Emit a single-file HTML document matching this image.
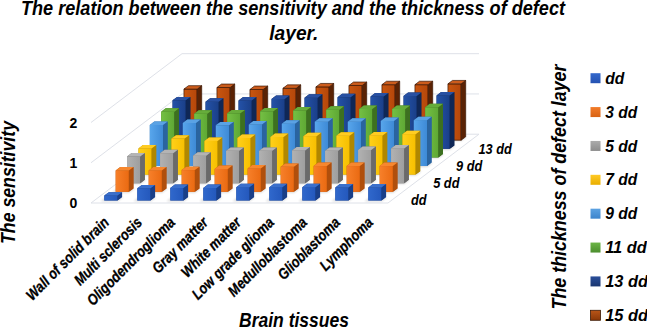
<!DOCTYPE html>
<html><head><meta charset="utf-8"><style>
html,body{margin:0;padding:0;background:#fff;width:647px;height:328px;overflow:hidden}
svg{display:block}
</style></head><body>
<svg width="647" height="328" viewBox="0 0 647 328">
<defs>
<linearGradient id="f0" x1="0" y1="0" x2="1" y2="0"><stop offset="0" stop-color="#3068cc"/><stop offset="1" stop-color="#2458bc"/></linearGradient>
<linearGradient id="f1" x1="0" y1="0" x2="1" y2="0"><stop offset="0" stop-color="#f7802a"/><stop offset="1" stop-color="#ea6a12"/></linearGradient>
<linearGradient id="f2" x1="0" y1="0" x2="1" y2="0"><stop offset="0" stop-color="#b2b2b2"/><stop offset="1" stop-color="#9e9e9e"/></linearGradient>
<linearGradient id="f3" x1="0" y1="0" x2="1" y2="0"><stop offset="0" stop-color="#ffd01a"/><stop offset="1" stop-color="#f7bf00"/></linearGradient>
<linearGradient id="f4" x1="0" y1="0" x2="1" y2="0"><stop offset="0" stop-color="#58a6ec"/><stop offset="1" stop-color="#3e8ad6"/></linearGradient>
<linearGradient id="f5" x1="0" y1="0" x2="1" y2="0"><stop offset="0" stop-color="#74c044"/><stop offset="1" stop-color="#5ea834"/></linearGradient>
<linearGradient id="f6" x1="0" y1="0" x2="1" y2="0"><stop offset="0" stop-color="#2452a8"/><stop offset="1" stop-color="#1a3f88"/></linearGradient>
<linearGradient id="f7" x1="0" y1="0" x2="1" y2="0"><stop offset="0" stop-color="#c9560f"/><stop offset="1" stop-color="#b4460a"/></linearGradient>
<filter id="blur1" x="-20%" y="-50%" width="140%" height="200%"><feGaussianBlur stdDeviation="1.2"/></filter>
<linearGradient id="k0" x1="0" y1="0" x2="0" y2="1"><stop offset="0" stop-color="#3468cc"/><stop offset="1" stop-color="#2452b2"/></linearGradient>
<linearGradient id="k1" x1="0" y1="0" x2="0" y2="1"><stop offset="0" stop-color="#f27c2a"/><stop offset="1" stop-color="#d86212"/></linearGradient>
<linearGradient id="k2" x1="0" y1="0" x2="0" y2="1"><stop offset="0" stop-color="#ababab"/><stop offset="1" stop-color="#8c8c8c"/></linearGradient>
<linearGradient id="k3" x1="0" y1="0" x2="0" y2="1"><stop offset="0" stop-color="#ffc925"/><stop offset="1" stop-color="#e8ae00"/></linearGradient>
<linearGradient id="k4" x1="0" y1="0" x2="0" y2="1"><stop offset="0" stop-color="#5ca2e2"/><stop offset="1" stop-color="#3c84cc"/></linearGradient>
<linearGradient id="k5" x1="0" y1="0" x2="0" y2="1"><stop offset="0" stop-color="#6cb546"/><stop offset="1" stop-color="#4c8e2e"/></linearGradient>
<linearGradient id="k6" x1="0" y1="0" x2="0" y2="1"><stop offset="0" stop-color="#2a4e9a"/><stop offset="1" stop-color="#1a3670"/></linearGradient>
<linearGradient id="k7" x1="0" y1="0" x2="0" y2="1"><stop offset="0" stop-color="#ba5618"/><stop offset="1" stop-color="#8a3808"/></linearGradient>
</defs>
<polyline points="91.00,162.75 182.00,93.95 479.00,93.95" fill="none" stroke="#dee1e8" stroke-width="1"/>
<polyline points="91.00,122.50 182.00,53.70 479.00,53.70" fill="none" stroke="#dee1e8" stroke-width="1"/>
<polygon points="91.00,203.00 388.00,203.00 479.00,134.20 182.00,134.20" fill="#ffffff" stroke="#dee1e8" stroke-width="1"/>
<polygon points="180.16,141.08 197.32,141.08 203.01,136.78 185.85,136.78" fill="#000" opacity="0.16" filter="url(#blur1)"/>
<polygon points="183.94,140.22 197.14,140.22 197.14,89.10 183.94,89.10" fill="url(#f7)" stroke="#3b1503" stroke-width="0.7" stroke-linejoin="round"/>
<polygon points="197.14,140.22 201.69,136.78 201.69,85.66 197.14,89.10" fill="#5a2204" stroke="#3b1503" stroke-width="0.7" stroke-linejoin="round"/>
<polygon points="183.94,89.10 197.14,89.10 201.69,85.66 188.49,85.66" fill="#cc5c1c" stroke="#3b1503" stroke-width="0.7" stroke-linejoin="round"/>
<polygon points="213.16,141.08 230.32,141.08 236.01,136.78 218.85,136.78" fill="#000" opacity="0.16" filter="url(#blur1)"/>
<polygon points="216.94,140.22 230.14,140.22 230.14,87.49 216.94,87.49" fill="url(#f7)" stroke="#3b1503" stroke-width="0.7" stroke-linejoin="round"/>
<polygon points="230.14,140.22 234.69,136.78 234.69,84.05 230.14,87.49" fill="#5a2204" stroke="#3b1503" stroke-width="0.7" stroke-linejoin="round"/>
<polygon points="216.94,87.49 230.14,87.49 234.69,84.05 221.49,84.05" fill="#cc5c1c" stroke="#3b1503" stroke-width="0.7" stroke-linejoin="round"/>
<polygon points="246.16,141.08 263.32,141.08 269.01,136.78 251.85,136.78" fill="#000" opacity="0.16" filter="url(#blur1)"/>
<polygon points="249.94,140.22 263.14,140.22 263.14,89.50 249.94,89.50" fill="url(#f7)" stroke="#3b1503" stroke-width="0.7" stroke-linejoin="round"/>
<polygon points="263.14,140.22 267.69,136.78 267.69,86.06 263.14,89.50" fill="#5a2204" stroke="#3b1503" stroke-width="0.7" stroke-linejoin="round"/>
<polygon points="249.94,89.50 263.14,89.50 267.69,86.06 254.49,86.06" fill="#cc5c1c" stroke="#3b1503" stroke-width="0.7" stroke-linejoin="round"/>
<polygon points="279.16,141.08 296.32,141.08 302.01,136.78 284.85,136.78" fill="#000" opacity="0.16" filter="url(#blur1)"/>
<polygon points="282.94,140.22 296.14,140.22 296.14,88.30 282.94,88.30" fill="url(#f7)" stroke="#3b1503" stroke-width="0.7" stroke-linejoin="round"/>
<polygon points="296.14,140.22 300.69,136.78 300.69,84.86 296.14,88.30" fill="#5a2204" stroke="#3b1503" stroke-width="0.7" stroke-linejoin="round"/>
<polygon points="282.94,88.30 296.14,88.30 300.69,84.86 287.49,84.86" fill="#cc5c1c" stroke="#3b1503" stroke-width="0.7" stroke-linejoin="round"/>
<polygon points="312.16,141.08 329.32,141.08 335.01,136.78 317.85,136.78" fill="#000" opacity="0.16" filter="url(#blur1)"/>
<polygon points="315.94,140.22 329.14,140.22 329.14,86.89 315.94,86.89" fill="url(#f7)" stroke="#3b1503" stroke-width="0.7" stroke-linejoin="round"/>
<polygon points="329.14,140.22 333.69,136.78 333.69,83.45 329.14,86.89" fill="#5a2204" stroke="#3b1503" stroke-width="0.7" stroke-linejoin="round"/>
<polygon points="315.94,86.89 329.14,86.89 333.69,83.45 320.49,83.45" fill="#cc5c1c" stroke="#3b1503" stroke-width="0.7" stroke-linejoin="round"/>
<polygon points="345.16,141.08 362.32,141.08 368.01,136.78 350.85,136.78" fill="#000" opacity="0.16" filter="url(#blur1)"/>
<polygon points="348.94,140.22 362.14,140.22 362.14,85.48 348.94,85.48" fill="url(#f7)" stroke="#3b1503" stroke-width="0.7" stroke-linejoin="round"/>
<polygon points="362.14,140.22 366.69,136.78 366.69,82.04 362.14,85.48" fill="#5a2204" stroke="#3b1503" stroke-width="0.7" stroke-linejoin="round"/>
<polygon points="348.94,85.48 362.14,85.48 366.69,82.04 353.49,82.04" fill="#cc5c1c" stroke="#3b1503" stroke-width="0.7" stroke-linejoin="round"/>
<polygon points="378.16,141.08 395.32,141.08 401.01,136.78 383.85,136.78" fill="#000" opacity="0.16" filter="url(#blur1)"/>
<polygon points="381.94,140.22 395.14,140.22 395.14,84.68 381.94,84.68" fill="url(#f7)" stroke="#3b1503" stroke-width="0.7" stroke-linejoin="round"/>
<polygon points="395.14,140.22 399.69,136.78 399.69,81.24 395.14,84.68" fill="#5a2204" stroke="#3b1503" stroke-width="0.7" stroke-linejoin="round"/>
<polygon points="381.94,84.68 395.14,84.68 399.69,81.24 386.49,81.24" fill="#cc5c1c" stroke="#3b1503" stroke-width="0.7" stroke-linejoin="round"/>
<polygon points="411.16,141.08 428.32,141.08 434.01,136.78 416.85,136.78" fill="#000" opacity="0.16" filter="url(#blur1)"/>
<polygon points="414.94,140.22 428.14,140.22 428.14,84.68 414.94,84.68" fill="url(#f7)" stroke="#3b1503" stroke-width="0.7" stroke-linejoin="round"/>
<polygon points="428.14,140.22 432.69,136.78 432.69,81.24 428.14,84.68" fill="#5a2204" stroke="#3b1503" stroke-width="0.7" stroke-linejoin="round"/>
<polygon points="414.94,84.68 428.14,84.68 432.69,81.24 419.49,81.24" fill="#cc5c1c" stroke="#3b1503" stroke-width="0.7" stroke-linejoin="round"/>
<polygon points="444.16,141.08 461.32,141.08 467.01,136.78 449.85,136.78" fill="#000" opacity="0.16" filter="url(#blur1)"/>
<polygon points="447.94,140.22 461.14,140.22 461.14,83.87 447.94,83.87" fill="url(#f7)" stroke="#3b1503" stroke-width="0.7" stroke-linejoin="round"/>
<polygon points="461.14,140.22 465.69,136.78 465.69,80.43 461.14,83.87" fill="#5a2204" stroke="#3b1503" stroke-width="0.7" stroke-linejoin="round"/>
<polygon points="447.94,83.87 461.14,83.87 465.69,80.43 452.49,80.43" fill="#cc5c1c" stroke="#3b1503" stroke-width="0.7" stroke-linejoin="round"/>
<polygon points="168.79,149.68 185.94,149.68 191.63,145.38 174.47,145.38" fill="#000" opacity="0.16" filter="url(#blur1)"/>
<polygon points="172.56,148.82 185.76,148.82 190.31,145.38 190.31,96.88 177.11,96.88 172.56,100.32" fill="#0f2756"/>
<polygon points="172.56,148.82 185.76,148.82 185.76,100.32 172.56,100.32" fill="url(#f6)"/>
<polygon points="185.76,148.82 190.31,145.38 190.31,96.88 185.76,100.32" fill="#0f2756"/>
<polygon points="172.56,100.32 185.76,100.32 190.31,96.88 177.11,96.88" fill="#2850a2"/>
<polygon points="201.78,149.68 218.95,149.68 224.63,145.38 207.47,145.38" fill="#000" opacity="0.16" filter="url(#blur1)"/>
<polygon points="205.56,148.82 218.76,148.82 223.31,145.38 223.31,98.29 210.11,98.29 205.56,101.73" fill="#0f2756"/>
<polygon points="205.56,148.82 218.76,148.82 218.76,101.73 205.56,101.73" fill="url(#f6)"/>
<polygon points="218.76,148.82 223.31,145.38 223.31,98.29 218.76,101.73" fill="#0f2756"/>
<polygon points="205.56,101.73 218.76,101.73 223.31,98.29 210.11,98.29" fill="#2850a2"/>
<polygon points="234.78,149.68 251.94,149.68 257.63,145.38 240.47,145.38" fill="#000" opacity="0.16" filter="url(#blur1)"/>
<polygon points="238.56,148.82 251.76,148.82 256.31,145.38 256.31,97.08 243.11,97.08 238.56,100.52" fill="#0f2756"/>
<polygon points="238.56,148.82 251.76,148.82 251.76,100.52 238.56,100.52" fill="url(#f6)"/>
<polygon points="251.76,148.82 256.31,145.38 256.31,97.08 251.76,100.52" fill="#0f2756"/>
<polygon points="238.56,100.52 251.76,100.52 256.31,97.08 243.11,97.08" fill="#2850a2"/>
<polygon points="267.78,149.68 284.94,149.68 290.63,145.38 273.47,145.38" fill="#000" opacity="0.16" filter="url(#blur1)"/>
<polygon points="271.56,148.82 284.76,148.82 289.31,145.38 289.31,95.47 276.11,95.47 271.56,98.91" fill="#0f2756"/>
<polygon points="271.56,148.82 284.76,148.82 284.76,98.91 271.56,98.91" fill="url(#f6)"/>
<polygon points="284.76,148.82 289.31,145.38 289.31,95.47 284.76,98.91" fill="#0f2756"/>
<polygon points="271.56,98.91 284.76,98.91 289.31,95.47 276.11,95.47" fill="#2850a2"/>
<polygon points="300.78,149.68 317.95,149.68 323.63,145.38 306.47,145.38" fill="#000" opacity="0.16" filter="url(#blur1)"/>
<polygon points="304.56,148.82 317.76,148.82 322.31,145.38 322.31,94.26 309.11,94.26 304.56,97.70" fill="#0f2756"/>
<polygon points="304.56,148.82 317.76,148.82 317.76,97.70 304.56,97.70" fill="url(#f6)"/>
<polygon points="317.76,148.82 322.31,145.38 322.31,94.26 317.76,97.70" fill="#0f2756"/>
<polygon points="304.56,97.70 317.76,97.70 322.31,94.26 309.11,94.26" fill="#2850a2"/>
<polygon points="333.78,149.68 350.95,149.68 356.63,145.38 339.47,145.38" fill="#000" opacity="0.16" filter="url(#blur1)"/>
<polygon points="337.56,148.82 350.76,148.82 355.31,145.38 355.31,93.86 342.11,93.86 337.56,97.30" fill="#0f2756"/>
<polygon points="337.56,148.82 350.76,148.82 350.76,97.30 337.56,97.30" fill="url(#f6)"/>
<polygon points="350.76,148.82 355.31,145.38 355.31,93.86 350.76,97.30" fill="#0f2756"/>
<polygon points="337.56,97.30 350.76,97.30 355.31,93.86 342.11,93.86" fill="#2850a2"/>
<polygon points="366.78,149.68 383.95,149.68 389.63,145.38 372.47,145.38" fill="#000" opacity="0.16" filter="url(#blur1)"/>
<polygon points="370.56,148.82 383.76,148.82 388.31,145.38 388.31,93.05 375.11,93.05 370.56,96.49" fill="#0f2756"/>
<polygon points="370.56,148.82 383.76,148.82 383.76,96.49 370.56,96.49" fill="url(#f6)"/>
<polygon points="383.76,148.82 388.31,145.38 388.31,93.05 383.76,96.49" fill="#0f2756"/>
<polygon points="370.56,96.49 383.76,96.49 388.31,93.05 375.11,93.05" fill="#2850a2"/>
<polygon points="399.78,149.68 416.95,149.68 422.63,145.38 405.47,145.38" fill="#000" opacity="0.16" filter="url(#blur1)"/>
<polygon points="403.56,148.82 416.76,148.82 421.31,145.38 421.31,92.45 408.11,92.45 403.56,95.89" fill="#0f2756"/>
<polygon points="403.56,148.82 416.76,148.82 416.76,95.89 403.56,95.89" fill="url(#f6)"/>
<polygon points="416.76,148.82 421.31,145.38 421.31,92.45 416.76,95.89" fill="#0f2756"/>
<polygon points="403.56,95.89 416.76,95.89 421.31,92.45 408.11,92.45" fill="#2850a2"/>
<polygon points="432.79,149.68 449.95,149.68 455.63,145.38 438.47,145.38" fill="#000" opacity="0.16" filter="url(#blur1)"/>
<polygon points="436.56,148.82 449.76,148.82 454.31,145.38 454.31,92.05 441.11,92.05 436.56,95.49" fill="#0f2756"/>
<polygon points="436.56,148.82 449.76,148.82 449.76,95.49 436.56,95.49" fill="url(#f6)"/>
<polygon points="449.76,148.82 454.31,145.38 454.31,92.05 449.76,95.49" fill="#0f2756"/>
<polygon points="436.56,95.49 449.76,95.49 454.31,92.05 441.11,92.05" fill="#2850a2"/>
<polygon points="157.41,158.28 174.57,158.28 180.26,153.98 163.10,153.98" fill="#000" opacity="0.16" filter="url(#blur1)"/>
<polygon points="161.19,157.42 174.39,157.42 178.94,153.98 178.94,108.20 165.74,108.20 161.19,111.64" fill="#3d7020"/>
<polygon points="161.19,157.42 174.39,157.42 174.39,111.64 161.19,111.64" fill="url(#f5)"/>
<polygon points="174.39,157.42 178.94,153.98 178.94,108.20 174.39,111.64" fill="#3d7020"/>
<polygon points="161.19,111.64 174.39,111.64 178.94,108.20 165.74,108.20" fill="#66ac3a"/>
<polygon points="190.41,158.28 207.57,158.28 213.26,153.98 196.10,153.98" fill="#000" opacity="0.16" filter="url(#blur1)"/>
<polygon points="194.19,157.42 207.39,157.42 211.94,153.98 211.94,110.31 198.74,110.31 194.19,113.75" fill="#3d7020"/>
<polygon points="194.19,157.42 207.39,157.42 207.39,113.75 194.19,113.75" fill="url(#f5)"/>
<polygon points="207.39,157.42 211.94,153.98 211.94,110.31 207.39,113.75" fill="#3d7020"/>
<polygon points="194.19,113.75 207.39,113.75 211.94,110.31 198.74,110.31" fill="#66ac3a"/>
<polygon points="223.41,158.28 240.57,158.28 246.26,153.98 229.10,153.98" fill="#000" opacity="0.16" filter="url(#blur1)"/>
<polygon points="227.19,157.42 240.39,157.42 244.94,153.98 244.94,109.91 231.74,109.91 227.19,113.35" fill="#3d7020"/>
<polygon points="227.19,157.42 240.39,157.42 240.39,113.35 227.19,113.35" fill="url(#f5)"/>
<polygon points="240.39,157.42 244.94,153.98 244.94,109.91 240.39,113.35" fill="#3d7020"/>
<polygon points="227.19,113.35 240.39,113.35 244.94,109.91 231.74,109.91" fill="#66ac3a"/>
<polygon points="256.41,158.28 273.57,158.28 279.26,153.98 262.10,153.98" fill="#000" opacity="0.16" filter="url(#blur1)"/>
<polygon points="260.19,157.42 273.39,157.42 277.94,153.98 277.94,107.89 264.74,107.89 260.19,111.33" fill="#3d7020"/>
<polygon points="260.19,157.42 273.39,157.42 273.39,111.33 260.19,111.33" fill="url(#f5)"/>
<polygon points="273.39,157.42 277.94,153.98 277.94,107.89 273.39,111.33" fill="#3d7020"/>
<polygon points="260.19,111.33 273.39,111.33 277.94,107.89 264.74,107.89" fill="#66ac3a"/>
<polygon points="289.41,158.28 306.57,158.28 312.26,153.98 295.10,153.98" fill="#000" opacity="0.16" filter="url(#blur1)"/>
<polygon points="293.19,157.42 306.39,157.42 310.94,153.98 310.94,107.09 297.74,107.09 293.19,110.53" fill="#3d7020"/>
<polygon points="293.19,157.42 306.39,157.42 306.39,110.53 293.19,110.53" fill="url(#f5)"/>
<polygon points="306.39,157.42 310.94,153.98 310.94,107.09 306.39,110.53" fill="#3d7020"/>
<polygon points="293.19,110.53 306.39,110.53 310.94,107.09 297.74,107.09" fill="#66ac3a"/>
<polygon points="322.41,158.28 339.57,158.28 345.26,153.98 328.10,153.98" fill="#000" opacity="0.16" filter="url(#blur1)"/>
<polygon points="326.19,157.42 339.39,157.42 343.94,153.98 343.94,106.28 330.74,106.28 326.19,109.72" fill="#3d7020"/>
<polygon points="326.19,157.42 339.39,157.42 339.39,109.72 326.19,109.72" fill="url(#f5)"/>
<polygon points="339.39,157.42 343.94,153.98 343.94,106.28 339.39,109.72" fill="#3d7020"/>
<polygon points="326.19,109.72 339.39,109.72 343.94,106.28 330.74,106.28" fill="#66ac3a"/>
<polygon points="355.41,158.28 372.57,158.28 378.26,153.98 361.10,153.98" fill="#000" opacity="0.16" filter="url(#blur1)"/>
<polygon points="359.19,157.42 372.39,157.42 376.94,153.98 376.94,105.48 363.74,105.48 359.19,108.92" fill="#3d7020"/>
<polygon points="359.19,157.42 372.39,157.42 372.39,108.92 359.19,108.92" fill="url(#f5)"/>
<polygon points="372.39,157.42 376.94,153.98 376.94,105.48 372.39,108.92" fill="#3d7020"/>
<polygon points="359.19,108.92 372.39,108.92 376.94,105.48 363.74,105.48" fill="#66ac3a"/>
<polygon points="388.41,158.28 405.57,158.28 411.26,153.98 394.10,153.98" fill="#000" opacity="0.16" filter="url(#blur1)"/>
<polygon points="392.19,157.42 405.39,157.42 409.94,153.98 409.94,105.48 396.74,105.48 392.19,108.92" fill="#3d7020"/>
<polygon points="392.19,157.42 405.39,157.42 405.39,108.92 392.19,108.92" fill="url(#f5)"/>
<polygon points="405.39,157.42 409.94,153.98 409.94,105.48 405.39,108.92" fill="#3d7020"/>
<polygon points="392.19,108.92 405.39,108.92 409.94,105.48 396.74,105.48" fill="#66ac3a"/>
<polygon points="421.41,158.28 438.57,158.28 444.26,153.98 427.10,153.98" fill="#000" opacity="0.16" filter="url(#blur1)"/>
<polygon points="425.19,157.42 438.39,157.42 442.94,153.98 442.94,103.87 429.74,103.87 425.19,107.31" fill="#3d7020"/>
<polygon points="425.19,157.42 438.39,157.42 438.39,107.31 425.19,107.31" fill="url(#f5)"/>
<polygon points="438.39,157.42 442.94,153.98 442.94,103.87 438.39,107.31" fill="#3d7020"/>
<polygon points="425.19,107.31 438.39,107.31 442.94,103.87 429.74,103.87" fill="#66ac3a"/>
<polygon points="146.03,166.88 163.19,166.88 168.88,162.58 151.72,162.58" fill="#000" opacity="0.16" filter="url(#blur1)"/>
<polygon points="149.81,166.02 163.01,166.02 167.56,162.58 167.56,121.52 154.36,121.52 149.81,124.97" fill="#2a64a0"/>
<polygon points="149.81,166.02 163.01,166.02 163.01,124.97 149.81,124.97" fill="url(#f4)"/>
<polygon points="163.01,166.02 167.56,162.58 167.56,121.52 163.01,124.97" fill="#2a64a0"/>
<polygon points="149.81,124.97 163.01,124.97 167.56,121.52 154.36,121.52" fill="#5aa2e4"/>
<polygon points="179.03,166.88 196.20,166.88 201.88,162.58 184.72,162.58" fill="#000" opacity="0.16" filter="url(#blur1)"/>
<polygon points="182.81,166.02 196.01,166.02 200.56,162.58 200.56,119.51 187.36,119.51 182.81,122.95" fill="#2a64a0"/>
<polygon points="182.81,166.02 196.01,166.02 196.01,122.95 182.81,122.95" fill="url(#f4)"/>
<polygon points="196.01,166.02 200.56,162.58 200.56,119.51 196.01,122.95" fill="#2a64a0"/>
<polygon points="182.81,122.95 196.01,122.95 200.56,119.51 187.36,119.51" fill="#5aa2e4"/>
<polygon points="212.03,166.88 229.19,166.88 234.88,162.58 217.72,162.58" fill="#000" opacity="0.16" filter="url(#blur1)"/>
<polygon points="215.81,166.02 229.01,166.02 233.56,162.58 233.56,121.93 220.36,121.93 215.81,125.37" fill="#2a64a0"/>
<polygon points="215.81,166.02 229.01,166.02 229.01,125.37 215.81,125.37" fill="url(#f4)"/>
<polygon points="229.01,166.02 233.56,162.58 233.56,121.93 229.01,125.37" fill="#2a64a0"/>
<polygon points="215.81,125.37 229.01,125.37 233.56,121.93 220.36,121.93" fill="#5aa2e4"/>
<polygon points="245.03,166.88 262.19,166.88 267.88,162.58 250.72,162.58" fill="#000" opacity="0.16" filter="url(#blur1)"/>
<polygon points="248.81,166.02 262.01,166.02 266.56,162.58 266.56,121.12 253.36,121.12 248.81,124.56" fill="#2a64a0"/>
<polygon points="248.81,166.02 262.01,166.02 262.01,124.56 248.81,124.56" fill="url(#f4)"/>
<polygon points="262.01,166.02 266.56,162.58 266.56,121.12 262.01,124.56" fill="#2a64a0"/>
<polygon points="248.81,124.56 262.01,124.56 266.56,121.12 253.36,121.12" fill="#5aa2e4"/>
<polygon points="278.03,166.88 295.19,166.88 300.88,162.58 283.72,162.58" fill="#000" opacity="0.16" filter="url(#blur1)"/>
<polygon points="281.81,166.02 295.01,166.02 299.56,162.58 299.56,120.32 286.36,120.32 281.81,123.76" fill="#2a64a0"/>
<polygon points="281.81,166.02 295.01,166.02 295.01,123.76 281.81,123.76" fill="url(#f4)"/>
<polygon points="295.01,166.02 299.56,162.58 299.56,120.32 295.01,123.76" fill="#2a64a0"/>
<polygon points="281.81,123.76 295.01,123.76 299.56,120.32 286.36,120.32" fill="#5aa2e4"/>
<polygon points="311.03,166.88 328.19,166.88 333.88,162.58 316.72,162.58" fill="#000" opacity="0.16" filter="url(#blur1)"/>
<polygon points="314.81,166.02 328.01,166.02 332.56,162.58 332.56,118.30 319.36,118.30 314.81,121.75" fill="#2a64a0"/>
<polygon points="314.81,166.02 328.01,166.02 328.01,121.75 314.81,121.75" fill="url(#f4)"/>
<polygon points="328.01,166.02 332.56,162.58 332.56,118.30 328.01,121.75" fill="#2a64a0"/>
<polygon points="314.81,121.75 328.01,121.75 332.56,118.30 319.36,118.30" fill="#5aa2e4"/>
<polygon points="344.03,166.88 361.19,166.88 366.88,162.58 349.72,162.58" fill="#000" opacity="0.16" filter="url(#blur1)"/>
<polygon points="347.81,166.02 361.01,166.02 365.56,162.58 365.56,118.30 352.36,118.30 347.81,121.75" fill="#2a64a0"/>
<polygon points="347.81,166.02 361.01,166.02 361.01,121.75 347.81,121.75" fill="url(#f4)"/>
<polygon points="361.01,166.02 365.56,162.58 365.56,118.30 361.01,121.75" fill="#2a64a0"/>
<polygon points="347.81,121.75 361.01,121.75 365.56,118.30 352.36,118.30" fill="#5aa2e4"/>
<polygon points="377.03,166.88 394.19,166.88 399.88,162.58 382.72,162.58" fill="#000" opacity="0.16" filter="url(#blur1)"/>
<polygon points="380.81,166.02 394.01,166.02 398.56,162.58 398.56,117.50 385.36,117.50 380.81,120.94" fill="#2a64a0"/>
<polygon points="380.81,166.02 394.01,166.02 394.01,120.94 380.81,120.94" fill="url(#f4)"/>
<polygon points="394.01,166.02 398.56,162.58 398.56,117.50 394.01,120.94" fill="#2a64a0"/>
<polygon points="380.81,120.94 394.01,120.94 398.56,117.50 385.36,117.50" fill="#5aa2e4"/>
<polygon points="410.04,166.88 427.19,166.88 432.88,162.58 415.72,162.58" fill="#000" opacity="0.16" filter="url(#blur1)"/>
<polygon points="413.81,166.02 427.01,166.02 431.56,162.58 431.56,116.69 418.36,116.69 413.81,120.14" fill="#2a64a0"/>
<polygon points="413.81,166.02 427.01,166.02 427.01,120.14 413.81,120.14" fill="url(#f4)"/>
<polygon points="427.01,166.02 431.56,162.58 431.56,116.69 427.01,120.14" fill="#2a64a0"/>
<polygon points="413.81,120.14 427.01,120.14 431.56,116.69 418.36,116.69" fill="#5aa2e4"/>
<polygon points="134.66,175.48 151.82,175.48 157.51,171.18 140.35,171.18" fill="#000" opacity="0.16" filter="url(#blur1)"/>
<polygon points="138.44,174.62 151.64,174.62 156.19,171.18 156.19,145.12 142.99,145.12 138.44,148.56" fill="#b08700"/>
<polygon points="138.44,174.62 151.64,174.62 151.64,148.56 138.44,148.56" fill="url(#f3)"/>
<polygon points="151.64,174.62 156.19,171.18 156.19,145.12 151.64,148.56" fill="#b08700"/>
<polygon points="138.44,148.56 151.64,148.56 156.19,145.12 142.99,145.12" fill="#ffcc22"/>
<polygon points="167.66,175.48 184.82,175.48 190.51,171.18 173.35,171.18" fill="#000" opacity="0.16" filter="url(#blur1)"/>
<polygon points="171.44,174.62 184.64,174.62 189.19,171.18 189.19,135.16 175.99,135.16 171.44,138.60" fill="#b08700"/>
<polygon points="171.44,174.62 184.64,174.62 184.64,138.60 171.44,138.60" fill="url(#f3)"/>
<polygon points="184.64,174.62 189.19,171.18 189.19,135.16 184.64,138.60" fill="#b08700"/>
<polygon points="171.44,138.60 184.64,138.60 189.19,135.16 175.99,135.16" fill="#ffcc22"/>
<polygon points="200.66,175.48 217.82,175.48 223.51,171.18 206.35,171.18" fill="#000" opacity="0.16" filter="url(#blur1)"/>
<polygon points="204.44,174.62 217.64,174.62 222.19,171.18 222.19,137.57 208.99,137.57 204.44,141.01" fill="#b08700"/>
<polygon points="204.44,174.62 217.64,174.62 217.64,141.01 204.44,141.01" fill="url(#f3)"/>
<polygon points="217.64,174.62 222.19,171.18 222.19,137.57 217.64,141.01" fill="#b08700"/>
<polygon points="204.44,141.01 217.64,141.01 222.19,137.57 208.99,137.57" fill="#ffcc22"/>
<polygon points="233.66,175.48 250.82,175.48 256.51,171.18 239.35,171.18" fill="#000" opacity="0.16" filter="url(#blur1)"/>
<polygon points="237.44,174.62 250.64,174.62 255.19,171.18 255.19,134.55 241.99,134.55 237.44,137.99" fill="#b08700"/>
<polygon points="237.44,174.62 250.64,174.62 250.64,137.99 237.44,137.99" fill="url(#f3)"/>
<polygon points="250.64,174.62 255.19,171.18 255.19,134.55 250.64,137.99" fill="#b08700"/>
<polygon points="237.44,137.99 250.64,137.99 255.19,134.55 241.99,134.55" fill="#ffcc22"/>
<polygon points="266.66,175.48 283.82,175.48 289.51,171.18 272.35,171.18" fill="#000" opacity="0.16" filter="url(#blur1)"/>
<polygon points="270.44,174.62 283.64,174.62 288.19,171.18 288.19,133.55 274.99,133.55 270.44,136.99" fill="#b08700"/>
<polygon points="270.44,174.62 283.64,174.62 283.64,136.99 270.44,136.99" fill="url(#f3)"/>
<polygon points="283.64,174.62 288.19,171.18 288.19,133.55 283.64,136.99" fill="#b08700"/>
<polygon points="270.44,136.99 283.64,136.99 288.19,133.55 274.99,133.55" fill="#ffcc22"/>
<polygon points="299.66,175.48 316.82,175.48 322.51,171.18 305.35,171.18" fill="#000" opacity="0.16" filter="url(#blur1)"/>
<polygon points="303.44,174.62 316.64,174.62 321.19,171.18 321.19,132.74 307.99,132.74 303.44,136.18" fill="#b08700"/>
<polygon points="303.44,174.62 316.64,174.62 316.64,136.18 303.44,136.18" fill="url(#f3)"/>
<polygon points="316.64,174.62 321.19,171.18 321.19,132.74 316.64,136.18" fill="#b08700"/>
<polygon points="303.44,136.18 316.64,136.18 321.19,132.74 307.99,132.74" fill="#ffcc22"/>
<polygon points="332.66,175.48 349.82,175.48 355.51,171.18 338.35,171.18" fill="#000" opacity="0.16" filter="url(#blur1)"/>
<polygon points="336.44,174.62 349.64,174.62 354.19,171.18 354.19,132.34 340.99,132.34 336.44,135.78" fill="#b08700"/>
<polygon points="336.44,174.62 349.64,174.62 349.64,135.78 336.44,135.78" fill="url(#f3)"/>
<polygon points="349.64,174.62 354.19,171.18 354.19,132.34 349.64,135.78" fill="#b08700"/>
<polygon points="336.44,135.78 349.64,135.78 354.19,132.34 340.99,132.34" fill="#ffcc22"/>
<polygon points="365.66,175.48 382.82,175.48 388.51,171.18 371.35,171.18" fill="#000" opacity="0.16" filter="url(#blur1)"/>
<polygon points="369.44,174.62 382.64,174.62 387.19,171.18 387.19,131.94 373.99,131.94 369.44,135.38" fill="#b08700"/>
<polygon points="369.44,174.62 382.64,174.62 382.64,135.38 369.44,135.38" fill="url(#f3)"/>
<polygon points="382.64,174.62 387.19,171.18 387.19,131.94 382.64,135.38" fill="#b08700"/>
<polygon points="369.44,135.38 382.64,135.38 387.19,131.94 373.99,131.94" fill="#ffcc22"/>
<polygon points="398.66,175.48 415.82,175.48 421.51,171.18 404.35,171.18" fill="#000" opacity="0.16" filter="url(#blur1)"/>
<polygon points="402.44,174.62 415.64,174.62 420.19,171.18 420.19,130.73 406.99,130.73 402.44,134.17" fill="#b08700"/>
<polygon points="402.44,174.62 415.64,174.62 415.64,134.17 402.44,134.17" fill="url(#f3)"/>
<polygon points="415.64,174.62 420.19,171.18 420.19,130.73 415.64,134.17" fill="#b08700"/>
<polygon points="402.44,134.17 415.64,134.17 420.19,130.73 406.99,130.73" fill="#ffcc22"/>
<polygon points="123.28,184.08 140.44,184.08 146.13,179.78 128.97,179.78" fill="#000" opacity="0.16" filter="url(#blur1)"/>
<polygon points="127.06,183.22 140.26,183.22 144.81,179.78 144.81,153.11 131.61,153.11 127.06,156.55" fill="#6a6a6a"/>
<polygon points="127.06,183.22 140.26,183.22 140.26,156.55 127.06,156.55" fill="url(#f2)"/>
<polygon points="140.26,183.22 144.81,179.78 144.81,153.11 140.26,156.55" fill="#6a6a6a"/>
<polygon points="127.06,156.55 140.26,156.55 144.81,153.11 131.61,153.11" fill="#b4b4b4"/>
<polygon points="156.28,184.08 173.45,184.08 179.13,179.78 161.97,179.78" fill="#000" opacity="0.16" filter="url(#blur1)"/>
<polygon points="160.06,183.22 173.26,183.22 177.81,179.78 177.81,149.79 164.61,149.79 160.06,153.23" fill="#6a6a6a"/>
<polygon points="160.06,183.22 173.26,183.22 173.26,153.23 160.06,153.23" fill="url(#f2)"/>
<polygon points="173.26,183.22 177.81,179.78 177.81,149.79 173.26,153.23" fill="#6a6a6a"/>
<polygon points="160.06,153.23 173.26,153.23 177.81,149.79 164.61,149.79" fill="#b4b4b4"/>
<polygon points="189.28,184.08 206.44,184.08 212.13,179.78 194.97,179.78" fill="#000" opacity="0.16" filter="url(#blur1)"/>
<polygon points="193.06,183.22 206.26,183.22 210.81,179.78 210.81,152.21 197.61,152.21 193.06,155.65" fill="#6a6a6a"/>
<polygon points="193.06,183.22 206.26,183.22 206.26,155.65 193.06,155.65" fill="url(#f2)"/>
<polygon points="206.26,183.22 210.81,179.78 210.81,152.21 206.26,155.65" fill="#6a6a6a"/>
<polygon points="193.06,155.65 206.26,155.65 210.81,152.21 197.61,152.21" fill="#b4b4b4"/>
<polygon points="222.28,184.08 239.44,184.08 245.13,179.78 227.97,179.78" fill="#000" opacity="0.16" filter="url(#blur1)"/>
<polygon points="226.06,183.22 239.26,183.22 243.81,179.78 243.81,147.38 230.61,147.38 226.06,150.82" fill="#6a6a6a"/>
<polygon points="226.06,183.22 239.26,183.22 239.26,150.82 226.06,150.82" fill="url(#f2)"/>
<polygon points="239.26,183.22 243.81,179.78 243.81,147.38 239.26,150.82" fill="#6a6a6a"/>
<polygon points="226.06,150.82 239.26,150.82 243.81,147.38 230.61,147.38" fill="#b4b4b4"/>
<polygon points="255.28,184.08 272.44,184.08 278.13,179.78 260.97,179.78" fill="#000" opacity="0.16" filter="url(#blur1)"/>
<polygon points="259.06,183.22 272.26,183.22 276.81,179.78 276.81,147.38 263.61,147.38 259.06,150.82" fill="#6a6a6a"/>
<polygon points="259.06,183.22 272.26,183.22 272.26,150.82 259.06,150.82" fill="url(#f2)"/>
<polygon points="272.26,183.22 276.81,179.78 276.81,147.38 272.26,150.82" fill="#6a6a6a"/>
<polygon points="259.06,150.82 272.26,150.82 276.81,147.38 263.61,147.38" fill="#b4b4b4"/>
<polygon points="288.28,184.08 305.44,184.08 311.13,179.78 293.97,179.78" fill="#000" opacity="0.16" filter="url(#blur1)"/>
<polygon points="292.06,183.22 305.26,183.22 309.81,179.78 309.81,146.98 296.61,146.98 292.06,150.42" fill="#6a6a6a"/>
<polygon points="292.06,183.22 305.26,183.22 305.26,150.42 292.06,150.42" fill="url(#f2)"/>
<polygon points="305.26,183.22 309.81,179.78 309.81,146.98 305.26,150.42" fill="#6a6a6a"/>
<polygon points="292.06,150.42 305.26,150.42 309.81,146.98 296.61,146.98" fill="#b4b4b4"/>
<polygon points="321.28,184.08 338.44,184.08 344.13,179.78 326.97,179.78" fill="#000" opacity="0.16" filter="url(#blur1)"/>
<polygon points="325.06,183.22 338.26,183.22 342.81,179.78 342.81,147.38 329.61,147.38 325.06,150.82" fill="#6a6a6a"/>
<polygon points="325.06,183.22 338.26,183.22 338.26,150.82 325.06,150.82" fill="url(#f2)"/>
<polygon points="338.26,183.22 342.81,179.78 342.81,147.38 338.26,150.82" fill="#6a6a6a"/>
<polygon points="325.06,150.82 338.26,150.82 342.81,147.38 329.61,147.38" fill="#b4b4b4"/>
<polygon points="354.28,184.08 371.44,184.08 377.13,179.78 359.97,179.78" fill="#000" opacity="0.16" filter="url(#blur1)"/>
<polygon points="358.06,183.22 371.26,183.22 375.81,179.78 375.81,146.57 362.61,146.57 358.06,150.01" fill="#6a6a6a"/>
<polygon points="358.06,183.22 371.26,183.22 371.26,150.01 358.06,150.01" fill="url(#f2)"/>
<polygon points="371.26,183.22 375.81,179.78 375.81,146.57 371.26,150.01" fill="#6a6a6a"/>
<polygon points="358.06,150.01 371.26,150.01 375.81,146.57 362.61,146.57" fill="#b4b4b4"/>
<polygon points="387.29,184.08 404.44,184.08 410.13,179.78 392.97,179.78" fill="#000" opacity="0.16" filter="url(#blur1)"/>
<polygon points="391.06,183.22 404.26,183.22 408.81,179.78 408.81,144.96 395.61,144.96 391.06,148.40" fill="#6a6a6a"/>
<polygon points="391.06,183.22 404.26,183.22 404.26,148.40 391.06,148.40" fill="url(#f2)"/>
<polygon points="404.26,183.22 408.81,179.78 408.81,144.96 404.26,148.40" fill="#6a6a6a"/>
<polygon points="391.06,148.40 404.26,148.40 408.81,144.96 395.61,144.96" fill="#b4b4b4"/>
<polygon points="111.91,192.68 129.07,192.68 134.76,188.38 117.60,188.38" fill="#000" opacity="0.16" filter="url(#blur1)"/>
<polygon points="115.69,191.82 128.89,191.82 133.44,188.38 133.44,167.05 120.24,167.05 115.69,170.49" fill="#b04f0c"/>
<polygon points="115.69,191.82 128.89,191.82 128.89,170.49 115.69,170.49" fill="url(#f1)"/>
<polygon points="128.89,191.82 133.44,188.38 133.44,167.05 128.89,170.49" fill="#b04f0c"/>
<polygon points="115.69,170.49 128.89,170.49 133.44,167.05 120.24,167.05" fill="#f7872e"/>
<polygon points="144.91,192.68 162.07,192.68 167.76,188.38 150.60,188.38" fill="#000" opacity="0.16" filter="url(#blur1)"/>
<polygon points="148.69,191.82 161.89,191.82 166.44,188.38 166.44,167.05 153.24,167.05 148.69,170.49" fill="#b04f0c"/>
<polygon points="148.69,191.82 161.89,191.82 161.89,170.49 148.69,170.49" fill="url(#f1)"/>
<polygon points="161.89,191.82 166.44,188.38 166.44,167.05 161.89,170.49" fill="#b04f0c"/>
<polygon points="148.69,170.49 161.89,170.49 166.44,167.05 153.24,167.05" fill="#f7872e"/>
<polygon points="177.91,192.68 195.07,192.68 200.76,188.38 183.60,188.38" fill="#000" opacity="0.16" filter="url(#blur1)"/>
<polygon points="181.69,191.82 194.89,191.82 199.44,188.38 199.44,166.64 186.24,166.64 181.69,170.08" fill="#b04f0c"/>
<polygon points="181.69,191.82 194.89,191.82 194.89,170.08 181.69,170.08" fill="url(#f1)"/>
<polygon points="194.89,191.82 199.44,188.38 199.44,166.64 194.89,170.08" fill="#b04f0c"/>
<polygon points="181.69,170.08 194.89,170.08 199.44,166.64 186.24,166.64" fill="#f7872e"/>
<polygon points="210.91,192.68 228.07,192.68 233.76,188.38 216.60,188.38" fill="#000" opacity="0.16" filter="url(#blur1)"/>
<polygon points="214.69,191.82 227.89,191.82 232.44,188.38 232.44,165.44 219.24,165.44 214.69,168.88" fill="#b04f0c"/>
<polygon points="214.69,191.82 227.89,191.82 227.89,168.88 214.69,168.88" fill="url(#f1)"/>
<polygon points="227.89,191.82 232.44,188.38 232.44,165.44 227.89,168.88" fill="#b04f0c"/>
<polygon points="214.69,168.88 227.89,168.88 232.44,165.44 219.24,165.44" fill="#f7872e"/>
<polygon points="243.91,192.68 261.07,192.68 266.76,188.38 249.60,188.38" fill="#000" opacity="0.16" filter="url(#blur1)"/>
<polygon points="247.69,191.82 260.89,191.82 265.44,188.38 265.44,165.03 252.24,165.03 247.69,168.47" fill="#b04f0c"/>
<polygon points="247.69,191.82 260.89,191.82 260.89,168.47 247.69,168.47" fill="url(#f1)"/>
<polygon points="260.89,191.82 265.44,188.38 265.44,165.03 260.89,168.47" fill="#b04f0c"/>
<polygon points="247.69,168.47 260.89,168.47 265.44,165.03 252.24,165.03" fill="#f7872e"/>
<polygon points="276.91,192.68 294.07,192.68 299.76,188.38 282.60,188.38" fill="#000" opacity="0.16" filter="url(#blur1)"/>
<polygon points="280.69,191.82 293.89,191.82 298.44,188.38 298.44,163.43 285.24,163.43 280.69,166.87" fill="#b04f0c"/>
<polygon points="280.69,191.82 293.89,191.82 293.89,166.87 280.69,166.87" fill="url(#f1)"/>
<polygon points="293.89,191.82 298.44,188.38 298.44,163.43 293.89,166.87" fill="#b04f0c"/>
<polygon points="280.69,166.87 293.89,166.87 298.44,163.43 285.24,163.43" fill="#f7872e"/>
<polygon points="309.91,192.68 327.07,192.68 332.76,188.38 315.60,188.38" fill="#000" opacity="0.16" filter="url(#blur1)"/>
<polygon points="313.69,191.82 326.89,191.82 331.44,188.38 331.44,162.62 318.24,162.62 313.69,166.06" fill="#b04f0c"/>
<polygon points="313.69,191.82 326.89,191.82 326.89,166.06 313.69,166.06" fill="url(#f1)"/>
<polygon points="326.89,191.82 331.44,188.38 331.44,162.62 326.89,166.06" fill="#b04f0c"/>
<polygon points="313.69,166.06 326.89,166.06 331.44,162.62 318.24,162.62" fill="#f7872e"/>
<polygon points="342.91,192.68 360.07,192.68 365.76,188.38 348.60,188.38" fill="#000" opacity="0.16" filter="url(#blur1)"/>
<polygon points="346.69,191.82 359.89,191.82 364.44,188.38 364.44,162.62 351.24,162.62 346.69,166.06" fill="#b04f0c"/>
<polygon points="346.69,191.82 359.89,191.82 359.89,166.06 346.69,166.06" fill="url(#f1)"/>
<polygon points="359.89,191.82 364.44,188.38 364.44,162.62 359.89,166.06" fill="#b04f0c"/>
<polygon points="346.69,166.06 359.89,166.06 364.44,162.62 351.24,162.62" fill="#f7872e"/>
<polygon points="375.91,192.68 393.07,192.68 398.76,188.38 381.60,188.38" fill="#000" opacity="0.16" filter="url(#blur1)"/>
<polygon points="379.69,191.82 392.89,191.82 397.44,188.38 397.44,162.62 384.24,162.62 379.69,166.06" fill="#b04f0c"/>
<polygon points="379.69,191.82 392.89,191.82 392.89,166.06 379.69,166.06" fill="url(#f1)"/>
<polygon points="392.89,191.82 397.44,188.38 397.44,162.62 392.89,166.06" fill="#b04f0c"/>
<polygon points="379.69,166.06 392.89,166.06 397.44,162.62 384.24,162.62" fill="#f7872e"/>
<polygon points="100.54,201.28 117.70,201.28 123.38,196.98 106.22,196.98" fill="#000" opacity="0.16" filter="url(#blur1)"/>
<polygon points="104.31,200.42 117.51,200.42 122.06,196.98 122.06,192.15 108.86,192.15 104.31,195.59" fill="#1a3f88"/>
<polygon points="104.31,200.42 117.51,200.42 117.51,195.59 104.31,195.59" fill="url(#f0)"/>
<polygon points="117.51,200.42 122.06,196.98 122.06,192.15 117.51,195.59" fill="#1a3f88"/>
<polygon points="104.31,195.59 117.51,195.59 122.06,192.15 108.86,192.15" fill="#3a6fcc"/>
<polygon points="133.53,201.28 150.70,201.28 156.38,196.98 139.22,196.98" fill="#000" opacity="0.16" filter="url(#blur1)"/>
<polygon points="137.31,200.42 150.51,200.42 155.06,196.98 155.06,184.91 141.86,184.91 137.31,188.34" fill="#1a3f88"/>
<polygon points="137.31,200.42 150.51,200.42 150.51,188.34 137.31,188.34" fill="url(#f0)"/>
<polygon points="150.51,200.42 155.06,196.98 155.06,184.91 150.51,188.34" fill="#1a3f88"/>
<polygon points="137.31,188.34 150.51,188.34 155.06,184.91 141.86,184.91" fill="#3a6fcc"/>
<polygon points="166.53,201.28 183.69,201.28 189.38,196.98 172.22,196.98" fill="#000" opacity="0.16" filter="url(#blur1)"/>
<polygon points="170.31,200.42 183.51,200.42 188.06,196.98 188.06,184.50 174.86,184.50 170.31,187.94" fill="#1a3f88"/>
<polygon points="170.31,200.42 183.51,200.42 183.51,187.94 170.31,187.94" fill="url(#f0)"/>
<polygon points="183.51,200.42 188.06,196.98 188.06,184.50 183.51,187.94" fill="#1a3f88"/>
<polygon points="170.31,187.94 183.51,187.94 188.06,184.50 174.86,184.50" fill="#3a6fcc"/>
<polygon points="199.53,201.28 216.69,201.28 222.38,196.98 205.22,196.98" fill="#000" opacity="0.16" filter="url(#blur1)"/>
<polygon points="203.31,200.42 216.51,200.42 221.06,196.98 221.06,184.50 207.86,184.50 203.31,187.94" fill="#1a3f88"/>
<polygon points="203.31,200.42 216.51,200.42 216.51,187.94 203.31,187.94" fill="url(#f0)"/>
<polygon points="216.51,200.42 221.06,196.98 221.06,184.50 216.51,187.94" fill="#1a3f88"/>
<polygon points="203.31,187.94 216.51,187.94 221.06,184.50 207.86,184.50" fill="#3a6fcc"/>
<polygon points="232.53,201.28 249.70,201.28 255.38,196.98 238.22,196.98" fill="#000" opacity="0.16" filter="url(#blur1)"/>
<polygon points="236.31,200.42 249.51,200.42 254.06,196.98 254.06,183.70 240.86,183.70 236.31,187.14" fill="#1a3f88"/>
<polygon points="236.31,200.42 249.51,200.42 249.51,187.14 236.31,187.14" fill="url(#f0)"/>
<polygon points="249.51,200.42 254.06,196.98 254.06,183.70 249.51,187.14" fill="#1a3f88"/>
<polygon points="236.31,187.14 249.51,187.14 254.06,183.70 240.86,183.70" fill="#3a6fcc"/>
<polygon points="265.53,201.28 282.69,201.28 288.38,196.98 271.22,196.98" fill="#000" opacity="0.16" filter="url(#blur1)"/>
<polygon points="269.31,200.42 282.51,200.42 287.06,196.98 287.06,183.70 273.86,183.70 269.31,187.14" fill="#1a3f88"/>
<polygon points="269.31,200.42 282.51,200.42 282.51,187.14 269.31,187.14" fill="url(#f0)"/>
<polygon points="282.51,200.42 287.06,196.98 287.06,183.70 282.51,187.14" fill="#1a3f88"/>
<polygon points="269.31,187.14 282.51,187.14 287.06,183.70 273.86,183.70" fill="#3a6fcc"/>
<polygon points="298.53,201.28 315.69,201.28 321.38,196.98 304.22,196.98" fill="#000" opacity="0.16" filter="url(#blur1)"/>
<polygon points="302.31,200.42 315.51,200.42 320.06,196.98 320.06,183.70 306.86,183.70 302.31,187.14" fill="#1a3f88"/>
<polygon points="302.31,200.42 315.51,200.42 315.51,187.14 302.31,187.14" fill="url(#f0)"/>
<polygon points="315.51,200.42 320.06,196.98 320.06,183.70 315.51,187.14" fill="#1a3f88"/>
<polygon points="302.31,187.14 315.51,187.14 320.06,183.70 306.86,183.70" fill="#3a6fcc"/>
<polygon points="331.53,201.28 348.69,201.28 354.38,196.98 337.22,196.98" fill="#000" opacity="0.16" filter="url(#blur1)"/>
<polygon points="335.31,200.42 348.51,200.42 353.06,196.98 353.06,184.10 339.86,184.10 335.31,187.54" fill="#1a3f88"/>
<polygon points="335.31,200.42 348.51,200.42 348.51,187.54 335.31,187.54" fill="url(#f0)"/>
<polygon points="348.51,200.42 353.06,196.98 353.06,184.10 348.51,187.54" fill="#1a3f88"/>
<polygon points="335.31,187.54 348.51,187.54 353.06,184.10 339.86,184.10" fill="#3a6fcc"/>
<polygon points="364.54,201.28 381.69,201.28 387.38,196.98 370.22,196.98" fill="#000" opacity="0.16" filter="url(#blur1)"/>
<polygon points="368.31,200.42 381.51,200.42 386.06,196.98 386.06,184.10 372.86,184.10 368.31,187.54" fill="#1a3f88"/>
<polygon points="368.31,200.42 381.51,200.42 381.51,187.54 368.31,187.54" fill="url(#f0)"/>
<polygon points="381.51,200.42 386.06,196.98 386.06,184.10 381.51,187.54" fill="#1a3f88"/>
<polygon points="368.31,187.54 381.51,187.54 386.06,184.10 372.86,184.10" fill="#3a6fcc"/>
<text x="21" y="14.8" font-family="&quot;Liberation Sans&quot;, sans-serif" font-weight="bold" font-style="italic" font-size="19.5" textLength="544" lengthAdjust="spacingAndGlyphs">The relation between the sensitivity and the thickness of defect</text>
<text x="269.3" y="40" font-family="&quot;Liberation Sans&quot;, sans-serif" font-weight="bold" font-style="italic" font-size="19.5" textLength="49" lengthAdjust="spacingAndGlyphs">layer.</text>
<text transform="translate(14.8,244) rotate(-90)" font-family="&quot;Liberation Sans&quot;, sans-serif" font-weight="bold" font-style="italic" font-size="19.5" textLength="123" lengthAdjust="spacingAndGlyphs">The sensitivity</text>
<text x="239" y="327" font-family="&quot;Liberation Sans&quot;, sans-serif" font-weight="bold" font-style="italic" font-size="19.5" textLength="110" lengthAdjust="spacingAndGlyphs">Brain tissues</text>
<text transform="translate(565.5,309.5) rotate(-90)" font-family="&quot;Liberation Sans&quot;, sans-serif" font-weight="bold" font-style="italic" font-size="19.5" textLength="245" lengthAdjust="spacingAndGlyphs">The thickness of defect layer</text>
<text x="77.3" y="207.9" font-family="&quot;Liberation Sans&quot;, sans-serif" font-weight="bold" font-size="14" text-anchor="end">0</text>
<text x="77.3" y="167.9" font-family="&quot;Liberation Sans&quot;, sans-serif" font-weight="bold" font-size="14" text-anchor="end">1</text>
<text x="77.3" y="127.9" font-family="&quot;Liberation Sans&quot;, sans-serif" font-weight="bold" font-size="14" text-anchor="end">2</text>
<text x="411" y="204.6" font-family="&quot;Liberation Sans&quot;, sans-serif" font-weight="bold" font-style="italic" font-size="14" textLength="15.6" lengthAdjust="spacingAndGlyphs">dd</text>
<text x="433.2" y="187.9" font-family="&quot;Liberation Sans&quot;, sans-serif" font-weight="bold" font-style="italic" font-size="14" textLength="26.3" lengthAdjust="spacingAndGlyphs">5 dd</text>
<text x="456" y="170.6" font-family="&quot;Liberation Sans&quot;, sans-serif" font-weight="bold" font-style="italic" font-size="14" textLength="26.3" lengthAdjust="spacingAndGlyphs">9 dd</text>
<text x="478.5" y="153.8" font-family="&quot;Liberation Sans&quot;, sans-serif" font-weight="bold" font-style="italic" font-size="14" textLength="33.4" lengthAdjust="spacingAndGlyphs">13 dd</text>
<text transform="translate(110.00,223.50) rotate(-45)" font-family="&quot;Liberation Sans&quot;, sans-serif" font-weight="bold" font-style="italic" font-size="15.2" stroke="#000" stroke-width="0.3" text-anchor="end" textLength="110.0" lengthAdjust="spacingAndGlyphs">Wall of solid brain</text>
<text transform="translate(143.00,223.50) rotate(-45)" font-family="&quot;Liberation Sans&quot;, sans-serif" font-weight="bold" font-style="italic" font-size="15.2" stroke="#000" stroke-width="0.3" text-anchor="end" textLength="88.9" lengthAdjust="spacingAndGlyphs">Multi sclerosis</text>
<text transform="translate(176.00,223.50) rotate(-45)" font-family="&quot;Liberation Sans&quot;, sans-serif" font-weight="bold" font-style="italic" font-size="15.2" stroke="#000" stroke-width="0.3" text-anchor="end" textLength="117.3" lengthAdjust="spacingAndGlyphs">Oligodendroglioma</text>
<text transform="translate(209.00,223.50) rotate(-45)" font-family="&quot;Liberation Sans&quot;, sans-serif" font-weight="bold" font-style="italic" font-size="15.2" stroke="#000" stroke-width="0.3" text-anchor="end" textLength="71.9" lengthAdjust="spacingAndGlyphs">Gray matter</text>
<text transform="translate(242.00,223.50) rotate(-45)" font-family="&quot;Liberation Sans&quot;, sans-serif" font-weight="bold" font-style="italic" font-size="15.2" stroke="#000" stroke-width="0.3" text-anchor="end" textLength="77.5" lengthAdjust="spacingAndGlyphs">White matter</text>
<text transform="translate(275.00,223.50) rotate(-45)" font-family="&quot;Liberation Sans&quot;, sans-serif" font-weight="bold" font-style="italic" font-size="15.2" stroke="#000" stroke-width="0.3" text-anchor="end" textLength="108.8" lengthAdjust="spacingAndGlyphs">Low grade glioma</text>
<text transform="translate(308.00,223.50) rotate(-45)" font-family="&quot;Liberation Sans&quot;, sans-serif" font-weight="bold" font-style="italic" font-size="15.2" stroke="#000" stroke-width="0.3" text-anchor="end" textLength="104.5" lengthAdjust="spacingAndGlyphs">Medulloblastoma</text>
<text transform="translate(341.00,223.50) rotate(-45)" font-family="&quot;Liberation Sans&quot;, sans-serif" font-weight="bold" font-style="italic" font-size="15.2" stroke="#000" stroke-width="0.3" text-anchor="end" textLength="81.1" lengthAdjust="spacingAndGlyphs">Glioblastoma</text>
<text transform="translate(374.00,223.50) rotate(-45)" font-family="&quot;Liberation Sans&quot;, sans-serif" font-weight="bold" font-style="italic" font-size="15.2" stroke="#000" stroke-width="0.3" text-anchor="end" textLength="68.3" lengthAdjust="spacingAndGlyphs">Lymphoma</text>
<rect x="590.5" y="73.20" width="10" height="10" fill="url(#k0)"/>
<text x="605.2" y="83.80" font-family="&quot;Liberation Sans&quot;, sans-serif" font-weight="bold" font-style="italic" font-size="16.5" textLength="19.1" lengthAdjust="spacingAndGlyphs">dd</text>
<rect x="590.5" y="107.07" width="10" height="10" fill="url(#k1)"/>
<text x="605.2" y="117.67" font-family="&quot;Liberation Sans&quot;, sans-serif" font-weight="bold" font-style="italic" font-size="16.5" textLength="32.1" lengthAdjust="spacingAndGlyphs">3 dd</text>
<rect x="590.5" y="140.94" width="10" height="10" fill="url(#k2)"/>
<text x="605.2" y="151.54" font-family="&quot;Liberation Sans&quot;, sans-serif" font-weight="bold" font-style="italic" font-size="16.5" textLength="32.1" lengthAdjust="spacingAndGlyphs">5 dd</text>
<rect x="590.5" y="174.81" width="10" height="10" fill="url(#k3)"/>
<text x="605.2" y="185.41" font-family="&quot;Liberation Sans&quot;, sans-serif" font-weight="bold" font-style="italic" font-size="16.5" textLength="32.1" lengthAdjust="spacingAndGlyphs">7 dd</text>
<rect x="590.5" y="208.68" width="10" height="10" fill="url(#k4)"/>
<text x="605.2" y="219.28" font-family="&quot;Liberation Sans&quot;, sans-serif" font-weight="bold" font-style="italic" font-size="16.5" textLength="32.1" lengthAdjust="spacingAndGlyphs">9 dd</text>
<rect x="590.5" y="242.55" width="10" height="10" fill="url(#k5)"/>
<text x="605.2" y="253.15" font-family="&quot;Liberation Sans&quot;, sans-serif" font-weight="bold" font-style="italic" font-size="16.5" textLength="41.6" lengthAdjust="spacingAndGlyphs">11 dd</text>
<rect x="590.5" y="276.42" width="10" height="10" fill="url(#k6)"/>
<text x="605.2" y="287.02" font-family="&quot;Liberation Sans&quot;, sans-serif" font-weight="bold" font-style="italic" font-size="16.5" textLength="42.8" lengthAdjust="spacingAndGlyphs">13 dd</text>
<rect x="590.5" y="310.29" width="10" height="10" fill="url(#k7)" stroke="#3a1a05" stroke-width="0.8"/>
<text x="605.2" y="320.89" font-family="&quot;Liberation Sans&quot;, sans-serif" font-weight="bold" font-style="italic" font-size="16.5" textLength="42.8" lengthAdjust="spacingAndGlyphs">15 dd</text>
</svg>
</body></html>
